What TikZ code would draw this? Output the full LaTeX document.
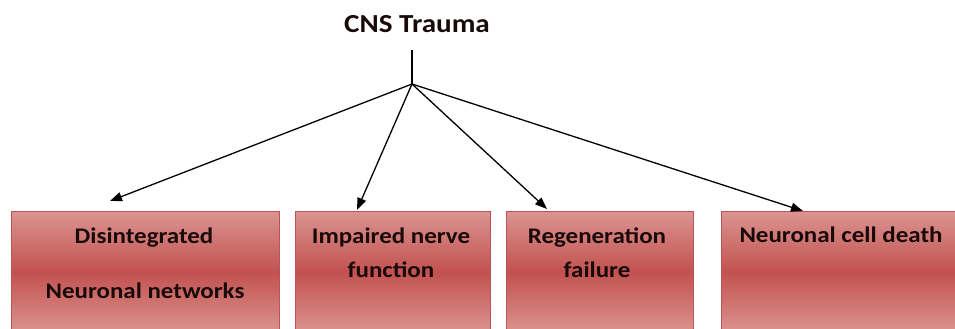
\documentclass[tikz,border=0pt]{standalone}
\usepackage{fontspec}
\setmainfont[FakeStretch=1.12]{Carlito}
\usetikzlibrary{arrows.meta}
\definecolor{boxlight}{RGB}{219,148,146}
\definecolor{boxdark}{RGB}{194,82,79}
\definecolor{boxedge}{RGB}{185,85,85}
\definecolor{txt}{RGB}{25,10,10}
\begin{document}
\begin{tikzpicture}[x=1pt,y=-1pt,
  box/.style={draw=boxedge, line width=0.8pt, rectangle, inner sep=0pt,
    top color=boxlight, bottom color=boxlight, middle color=boxdark},
  lbl/.style={anchor=base, inner sep=0pt, text=txt, font=\fontsize{22.3}{26}\selectfont\bfseries},
  ttl/.style={anchor=base, inner sep=0pt, text=txt, font=\fontsize{26}{30}\selectfont\bfseries},
  conn/.style={line width=1.3pt, -{Triangle[length=12pt,width=9pt]}}
]
\useasboundingbox (0,0) rectangle (955,329);
\clip (0,0) rectangle (955,329);
\fill[white] (0,0) rectangle (955,329);

% title and stem
\node[ttl] (title) at (417,33) {CNS Trauma};
\coordinate (stem) at (412,50);
\coordinate (hub) at (412,84);
\draw[line width=1.3pt] (stem) -- (hub);

% boxes
\node[box, minimum width=268pt, minimum height=122pt] (b1) at (145,272) {};
\node[box, minimum width=195pt, minimum height=122pt] (b2) at (392.5,272) {};
\node[box, minimum width=187pt, minimum height=122pt] (b3) at (599.5,272) {};
\node[box, minimum width=240pt, minimum height=122pt] (b4) at (841,272) {};

% labels
\node[lbl] (l1a) at (144,243) {Disintegrated};
\node[lbl] (l1b) at (145,298) {Neuronal networks};
\node[lbl] (l2a) at (391,243) {Impaired nerve};
\node[lbl] (l2b) at (391,277) {function};
\node[lbl] (l3a) at (597,243) {Regeneration};
\node[lbl] (l3b) at (597,277) {failure};
\node[lbl] (l4a) at (841,242) {Neuronal cell death};

% arrow ends
\coordinate (e1) at (110,201);
\coordinate (e2) at (357,210);
\coordinate (e3) at (547,209);
\coordinate (e4) at (803,211);

\draw[conn] (hub) -- (e1);
\draw[conn] (hub) -- (e2);
\draw[conn] (hub) -- (e3);
\draw[conn] (hub) -- (e4);
\end{tikzpicture}
\end{document}
